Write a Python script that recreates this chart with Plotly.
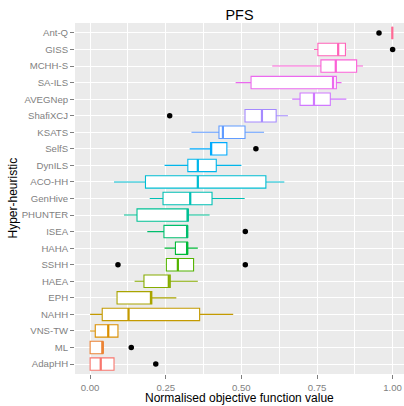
import math
import plotly.graph_objects as go

# ---------------- data (bottom to top) ----------------
names = ["AdapHH", "ML", "VNS-TW", "NAHH", "EPH", "HAEA", "SSHH", "HAHA", "ISEA",
         "PHUNTER", "GenHive", "ACO-HH", "DynILS", "SelfS", "KSATS", "ShafiXCJ",
         "AVEGNep", "SA-ILS", "MCHH-S", "GISS", "Ant-Q"]
lower = [0.0, 0.0, 0.0, 0.0, 0.089, 0.147, 0.252, 0.246, 0.189, 0.112, 0.197,
         0.079, 0.246, 0.329, 0.335, 0.512, 0.668, 0.481, 0.602, 0.740, 0.999]
q1 = [0.0, 0.0, 0.017, 0.040, 0.089, 0.178, 0.252, 0.282, 0.244, 0.155, 0.241,
      0.183, 0.323, 0.398, 0.426, 0.512, 0.694, 0.532, 0.763, 0.753, 0.999]
median = [0.035, 0.042, 0.060, 0.127, 0.201, 0.260, 0.290, 0.321, 0.321, 0.323, 0.331,
          0.356, 0.356, 0.400, 0.439, 0.568, 0.740, 0.803, 0.812, 0.820, 0.999]
q3 = [0.079, 0.042, 0.092, 0.362, 0.204, 0.265, 0.342, 0.322, 0.322, 0.324, 0.403,
      0.581, 0.417, 0.452, 0.512, 0.615, 0.794, 0.814, 0.881, 0.844, 0.999]
upper = [0.079, 0.042, 0.092, 0.473, 0.285, 0.356, 0.342, 0.356, 0.322, 0.395, 0.511,
         0.642, 0.500, 0.452, 0.575, 0.654, 0.847, 0.831, 0.902, 0.847, 0.999]
out_names = ["AdapHH", "ML", "SSHH", "SSHH", "ISEA", "SelfS", "ShafiXCJ", "GISS", "Ant-Q"]
out_values = [0.217, 0.136, 0.092, 0.513, 0.513, 0.548, 0.263, 1.0, 0.955]
x_tickvals = [0, 0.25, 0.5, 0.75, 1.0]
x_ticktext = ["0.00", "0.25", "0.50", "0.75", "1.00"]


def hcl_hex(h, c=100.0, l=65.0):
    wy, wu, wv = 100.0, 0.1978398, 0.4683363
    hr = math.radians(h)
    U, V = c * math.cos(hr), c * math.sin(hr)
    Y = wy * (((l + 16) / 116) ** 3 if l > 7.999592 else l / 903.3)
    u = U / (13 * l) + wu
    v = V / (13 * l) + wv
    X = 9.0 * Y * u / (4 * v)
    Z = -X / 3 - 5 * Y + 3 * Y / v

    def g(t):
        t = 1.055 * t ** (1 / 2.4) - 0.055 if t > 0.00304 else 12.92 * t
        return max(0, min(1, t))
    R = g((3.240479 * X - 1.537150 * Y - 0.498535 * Z) / wy)
    G = g((-0.969256 * X + 1.875992 * Y + 0.041556 * Z) / wy)
    B = g((0.055648 * X - 0.204043 * Y + 1.057311 * Z) / wy)
    return "#%02X%02X%02X" % (round(R * 255), round(G * 255), round(B * 255))


n = len(names)
colors = [hcl_hex(15 + i * 360.0 / n) for i in range(n)]
pos = {nm: i + 1 for i, nm in enumerate(names)}
BW = 0.75

fig = go.Figure()
for i, nm in enumerate(names):
    p = i + 1
    fig.add_trace(go.Box(
        y=[p], q1=[q1[i]], median=[median[i]], q3=[q3[i]],
        lowerfence=[lower[i]], upperfence=[upper[i]],
        orientation="h", width=BW, whiskerwidth=0, boxpoints=False,
        fillcolor="white", line=dict(color=colors[i], width=1.1),
        showlegend=False, hoverinfo="skip"))
    fig.add_trace(go.Scatter(
        x=[median[i], median[i]], y=[p - BW / 2, p + BW / 2], mode="lines",
        line=dict(color=colors[i], width=2.2), showlegend=False, hoverinfo="skip"))

fig.add_trace(go.Scatter(
    x=out_values, y=[pos[nm] for nm in out_names], mode="markers",
    marker=dict(color="black", size=5.5), showlegend=False, hoverinfo="skip",
    cliponaxis=False))

tickfont = dict(family="Liberation Sans", size=9.6, color="#7F7F7F")
fig.update_layout(
    width=404, height=406,
    margin=dict(l=75, r=0, t=23, b=32),
    paper_bgcolor="white", plot_bgcolor="#EBEBEB",
    boxmode="overlay",
    font=dict(family="Liberation Sans", color="black"),
    title=dict(text="PFS", x=0.5, xref="paper", xanchor="center",
               y=1 - 15 / 406, yref="container", yanchor="middle",
               font=dict(size=14.4, color="black", family="Liberation Sans")),
    xaxis=dict(range=[-0.05, 1.0376], tickvals=x_tickvals, ticktext=x_ticktext,
               showgrid=True, gridcolor="white", gridwidth=1.3, zeroline=False,
               ticks="outside", ticklen=4, tickcolor="#7F7F7F", tickwidth=1,
               tickfont=tickfont, showline=False,
               minor=dict(tick0=0.125, dtick=0.25, showgrid=True, gridcolor="white",
                          gridwidth=0.6, ticks="")),
    yaxis=dict(range=[0.4, 21.6], tickvals=list(range(1, n + 1)), ticktext=names,
               showgrid=True, gridcolor="white", gridwidth=1.3, zeroline=False,
               ticks="outside", ticklen=4, tickcolor="#7F7F7F", tickwidth=1,
               tickfont=tickfont, showline=False),
    annotations=[
        dict(text="Normalised objective function value", xref="paper", yref="paper",
             x=0.5, y=(374 - 398.5) / 351, xanchor="center", yanchor="middle",
             showarrow=False, font=dict(size=12, color="black")),
        dict(text="Hyper-heuristic", xref="paper", yref="paper",
             x=(12 - 75) / 329, y=0.5, xanchor="center", yanchor="middle",
             textangle=-90, showarrow=False, font=dict(size=12, color="black")),
    ],
)

fig.write_html("out.html", config={"displayModeBar": False},
               post_script="document.body.style.margin='0';document.body.style.overflow='hidden';")
